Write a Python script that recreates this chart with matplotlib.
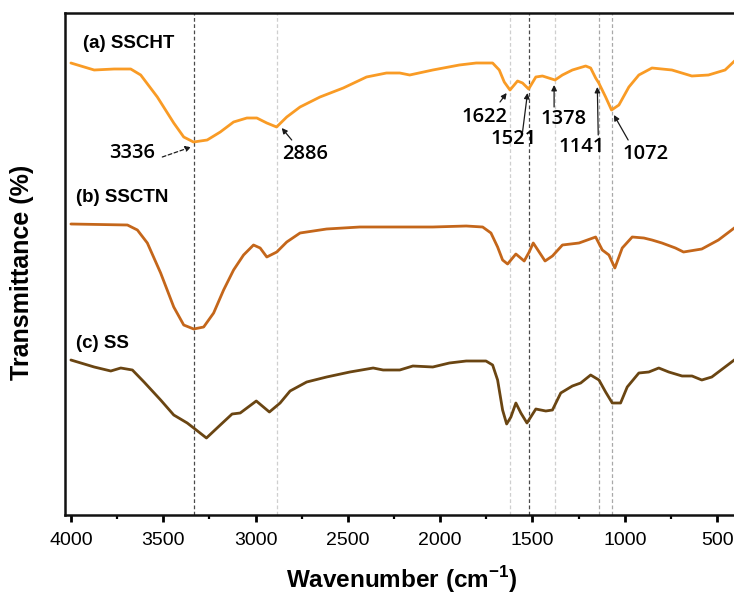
import matplotlib
matplotlib.use("Agg")
import matplotlib.pyplot as plt

plt.rcParams["mathtext.fontset"] = "custom"
plt.rcParams["mathtext.rm"] = "Liberation Sans"
plt.rcParams["mathtext.bf"] = "Liberation Sans:bold"

# ---------------- data (arbitrary offset units) -------------
wn_a = [4000, 3874, 3766, 3676, 3622, 3532, 3443, 3389, 3336, 3262, 3191, 3119, 3047,
        2993, 2939, 2886, 2831, 2759, 2651, 2525, 2399, 2291, 2219, 2165, 2040, 1896,
        1805, 1716, 1680, 1653, 1622, 1581, 1554, 1521, 1482, 1446, 1378, 1338, 1284,
        1212, 1185, 1158, 1141, 1104, 1072, 1032, 978, 924, 853, 745, 637, 547, 457, 400]
tr_a = [457, 450, 451, 451, 445, 423, 397, 383, 378, 380, 388, 398, 402,
        402, 397, 393, 403, 413, 423, 432, 443, 447, 447, 445, 450, 455,
        457, 457, 450, 438, 430, 439, 437, 431, 443, 444, 440, 445, 450,
        454, 452, 442, 437, 423, 410, 415, 433, 445, 452, 450, 444, 445, 450, 460]

wn_b = [4000, 3694, 3640, 3586, 3514, 3443, 3389, 3335, 3281, 3227, 3173, 3119, 3065,
        3011, 2975, 2939, 2885, 2831, 2759, 2615, 2435, 2219, 2040, 1859, 1770, 1725,
        1689, 1662, 1635, 1590, 1545, 1518, 1496, 1464, 1432, 1392, 1338, 1248, 1158,
        1122, 1086, 1054, 1014, 960, 897, 853, 799, 726, 682, 583, 493, 400]
tr_b = [296, 295, 290, 277, 247, 213, 195, 191, 193, 207, 230, 250, 265,
        275, 272, 263, 268, 278, 287, 291, 293, 293, 293, 294, 293, 287,
        273, 260, 256, 266, 259, 268, 277, 268, 259, 264, 275, 277, 283,
        270, 265, 252, 272, 283, 282, 280, 277, 272, 268, 271, 280, 293]

wn_c = [4000, 3874, 3784, 3730, 3667, 3604, 3514, 3443, 3370, 3335, 3266, 3191, 3127,
        3083, 2996, 2925, 2867, 2813, 2723, 2615, 2489, 2363, 2309, 2219, 2148, 2040,
        1950, 1859, 1752, 1716, 1689, 1662, 1640, 1617, 1590, 1563, 1530, 1482, 1428,
        1392, 1347, 1284, 1239, 1185, 1140, 1104, 1068, 1023, 987, 924, 870, 816, 762,
        690, 636, 583, 529, 400]
tr_c = [160, 153, 149, 152, 150, 138, 120, 105, 97, 92, 82, 95, 106,
        107, 119, 108, 117, 129, 138, 143, 148, 152, 150, 150, 154, 153,
        157, 159, 159, 155, 140, 110, 96, 103, 117, 107, 97, 111, 109,
        110, 127, 134, 137, 145, 140, 128, 117, 117, 133, 147, 148, 152, 148,
        144, 144, 140, 143, 161]

series_labels = ["(a) SSCHT", "(b) SSCTN", "(c) SS"]
series_colors = ["#F99B25", "#C4661A", "#6A4512"]

peaks = [3336, 2886, 1622, 1521, 1378, 1141, 1072]
peak_labels = ["3336", "2886", "1622", "1521", "1378", "1141", "1072"]
dark_peaks = [3336, 1521]

xticks = [4000, 3500, 3000, 2500, 2000, 1500, 1000, 500]
xminor = [3750, 3250, 2750, 2250, 1750, 1250, 750]

# ---------------- figure -------------
W, H = 734, 595
fig = plt.figure(figsize=(W / 100, H / 100), dpi=100)
left_px, right_px, top_px, bot_px = 65, 735.6, 13, 515
ax = fig.add_axes([left_px / W, 1 - bot_px / H, (right_px - left_px) / W, (bot_px - top_px) / H])
ax.set_xlim(4032, 400)
ax.set_ylim(5, 507)

# reference lines
for p in peaks:
    if p in dark_peaks:
        ax.axvline(p, color="#4a4a4a", lw=0.9, ls=(0, (3, 2)), zorder=1)
    elif p in (1141, 1072):
        ax.axvline(p, color="#a8a8a8", lw=0.9, ls=(0, (3, 2)), zorder=1)
    else:
        ax.axvline(p, color="#cfcfcf", lw=0.9, ls=(0, (3, 2)), zorder=1)

for wn, tr, col in zip([wn_a, wn_b, wn_c], [tr_a, tr_b, tr_c], series_colors):
    ax.plot(wn, tr, color=col, lw=2.0, solid_joinstyle="round", solid_capstyle="round", zorder=3)

label_font = dict(family=["Liberation Sans", "DejaVu Sans"], weight="bold", fontsize=13.5)
ax.text(3935, 477, series_labels[0], ha="left", va="center", **label_font)
ax.text(3973, 323, series_labels[1], ha="left", va="center", **label_font)
ax.text(3973, 176, series_labels[2], ha="left", va="center", **label_font)

# annotations: label positions (text centre), arrow tail, arrow head
text_pos = [(3671, 367), (2732, 366), (1761, 403), (1604, 381), (1334, 401), (1232, 373), (887, 366)]
tails = [(3505, 363), (2804, 380), (1676, 418), (1554, 388), (1383, 413), (1144, 385), (982, 380)]
heads = [(3349, 373), (2858, 392), (1640, 427), (1527, 427), (1383, 435), (1149, 433), (1059, 405)]
ann_font = dict(family=["Open Sans", "DejaVu Sans"], weight="semibold", fontsize=14.5)
for lab, tp, tl, hd in zip(peak_labels, text_pos, tails, heads):
    ax.text(tp[0], tp[1], lab, ha="center", va="center", **ann_font, zorder=5)
    ls = (0, (3, 2)) if lab == "3336" else "-"
    ax.annotate("", xy=hd, xytext=tl,
                arrowprops=dict(arrowstyle="-|>", color="#1a1a1a", lw=0.9, linestyle=ls,
                                mutation_scale=8, shrinkA=0, shrinkB=0), zorder=5)

# axes styling
ax.set_yticks([])
ax.set_xticks(xticks)
ax.set_xticks(xminor, minor=True)
ax.set_xticklabels([str(t) for t in xticks], family=["Liberation Sans", "DejaVu Sans"], fontsize=14)
ax.tick_params(axis="x", which="major", direction="out", length=5, width=2, pad=7)
ax.tick_params(axis="x", which="minor", direction="out", length=3, width=1.6)
for s in ax.spines.values():
    s.set_linewidth(1.8)
    s.set_color("#111111")

ax.set_xlabel("Wavenumber (cm$^{\\mathbf{-1}}$)", family=["Liberation Sans", "DejaVu Sans"],
              weight="bold", fontsize=17.5)
ax.xaxis.set_label_coords((402 - left_px) / (right_px - left_px), -(564 - bot_px) / (bot_px - top_px))
ax.set_ylabel("Transmittance (%)", family=["Liberation Sans", "DejaVu Sans"],
              weight="bold", fontsize=18)
ax.yaxis.set_label_coords((34 - left_px) / (right_px - left_px), (bot_px - 272) / (bot_px - top_px))

fig.savefig("out.png", dpi=100)
